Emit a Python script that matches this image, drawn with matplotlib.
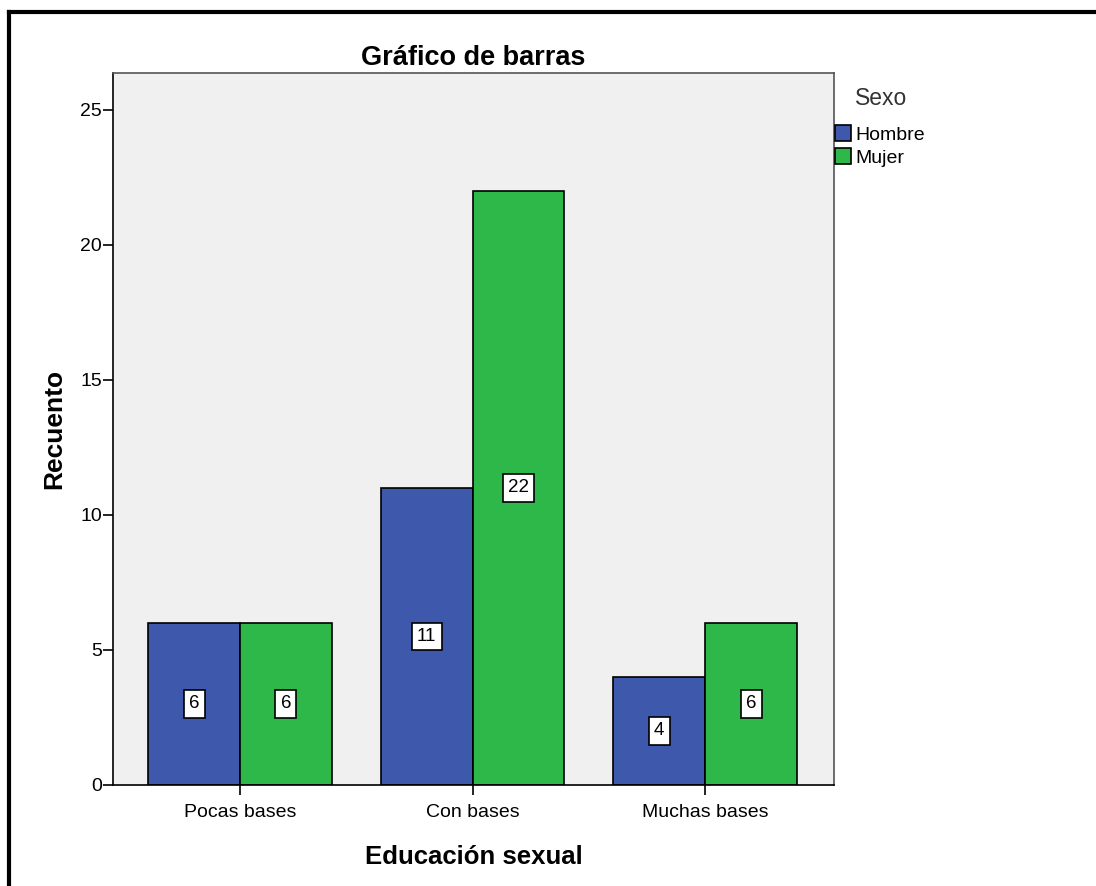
import matplotlib.pyplot as plt
import numpy as np
from matplotlib.lines import Line2D

plt.rcParams["font.family"] = ["Liberation Sans", "DejaVu Sans"]

# data
categories = ["Pocas bases", "Con bases", "Muchas bases"]
hombre = [6, 11, 4]
mujer = [6, 22, 6]
series_names = ["Hombre", "Mujer"]
colors = ["#3e58ac", "#2eb84a"]

fig = plt.figure(figsize=(10.96, 8.86), dpi=100)
ax = fig.add_axes([0.1031, 0.114, 0.658, 0.8036])
ax.set_facecolor("#f0f0f0")

x = np.arange(len(categories))
w = 0.395
bars_h = ax.bar(x - w / 2, hombre, w, color=colors[0], edgecolor="black", linewidth=1.2, label=series_names[0])
bars_m = ax.bar(x + w / 2, mujer, w, color=colors[1], edgecolor="black", linewidth=1.2, label=series_names[1])

# value labels at half height
for bars, vals in [(bars_h, hombre), (bars_m, mujer)]:
    for b, v in zip(bars, vals):
        ax.text(b.get_x() + b.get_width() / 2, v / 2, str(v), ha="center", va="center",
                fontsize=13.5, bbox=dict(boxstyle="square,pad=0.28", fc="white", ec="black", lw=1.2))

ax.set_xlim(-0.546, 2.555)
ax.set_ylim(0, 26.37)
ax.set_yticks([0, 5, 10, 15, 20, 25])
ax.set_xticks(x)
ax.set_xticklabels(categories, fontsize=14)
ax.tick_params(axis="y", labelsize=14, length=7, width=1.2, pad=1)
ax.tick_params(axis="x", length=7, width=1.2, pad=7)
for s in ax.spines.values():
    s.set_linewidth(1.2)
ax.spines["top"].set_color("#555555")
ax.spines["right"].set_color("#555555")

ax.set_title("Gráfico de barras", fontsize=19.5, fontweight="bold", pad=6)
ax.set_ylabel("Recuento", fontsize=19, fontweight="bold", labelpad=10)
ax.set_xlabel("Educación sexual", fontsize=18.5, fontweight="bold", labelpad=17)

# legend
fig.text(0.780, 0.889, "Sexo", fontsize=16.5, color="#333333", va="center")
fig.legend(handles=[bars_h, bars_m], labels=series_names, loc="upper left",
           bbox_to_anchor=(0.760, 0.861), frameon=False, fontsize=14,
           handlelength=0.85, handleheight=0.9, handletextpad=0.2, labelspacing=0.22,
           borderaxespad=0, borderpad=0.1)

# outer frame lines (top and left only)
fig.add_artist(Line2D([0.0082, 1.0], [0.987, 0.987], color="black", lw=3, transform=fig.transFigure))
fig.add_artist(Line2D([0.0082, 0.0082], [0.0, 0.987], color="black", lw=3, transform=fig.transFigure))

fig.savefig("out.png", dpi=100)
